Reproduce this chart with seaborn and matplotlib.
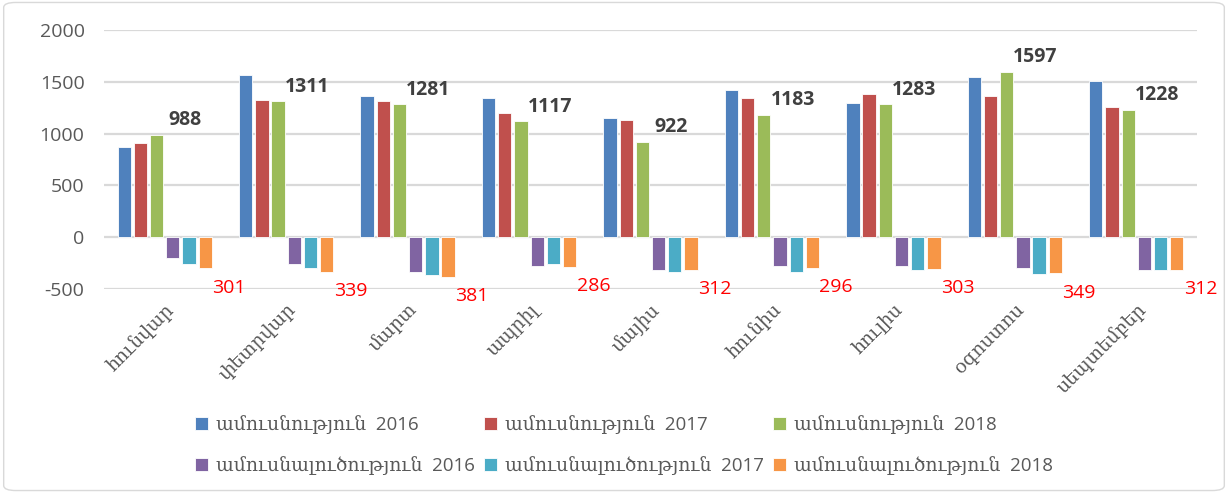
import pandas as pd
import numpy as np
import matplotlib.pyplot as plt
import seaborn as sns
from matplotlib.patches import FancyBboxPatch

# chart data
months = ['հունվար', 'փետրվար', 'մարտ', 'ապրիլ', 'մայիս', 'հունիս', 'հուլիս', 'օգոստոս', 'սեպտեմբեր']
marr_2016 = [874, 1565, 1363, 1344, 1149, 1418, 1293, 1546, 1507]
marr_2017 = [912, 1328, 1312, 1203, 1130, 1344, 1382, 1363, 1258]
marr_2018 = [988, 1311, 1281, 1117, 922, 1183, 1283, 1597, 1228]
div_2016 = [205, 259, 333, 278, 314, 278, 278, 295, 317]
div_2017 = [259, 295, 368, 259, 333, 333, 314, 355, 317]
div_2018 = [301, 339, 381, 286, 312, 296, 303, 349, 312]

series_names = ['ամուսնություն  2016', 'ամուսնություն  2017', 'ամուսնություն  2018',
                'ամուսնալուծություն  2016', 'ամուսնալուծություն  2017', 'ամուսնալուծություն  2018']
colors = ['#4F81BD', '#C0504D', '#9BBB59', '#8064A2', '#4BACC6', '#F79646']

# long table for seaborn (divorces drawn below zero)
values = [marr_2016, marr_2017, marr_2018,
          [-v for v in div_2016], [-v for v in div_2017], [-v for v in div_2018]]
rows = []
for name, vals in zip(series_names, values):
    for m, v in zip(months, vals):
        rows.append({'month': m, 'value': v, 'series': name})
df = pd.DataFrame(rows)

sns.set_style('white')
plt.rcParams['font.family'] = ['Open Sans', 'DejaVu Serif']
plt.rcParams['axes.unicode_minus'] = False
gray = '#595959'

fig = plt.figure(figsize=(12.28, 4.93), dpi=100)
ax = fig.add_axes([104 / 1228, 1 - 289 / 493, 1093 / 1228, 259 / 493])

sns.barplot(data=df, x='month', y='value', hue='series', order=months,
            hue_order=series_names, palette=colors, saturation=1,
            width=0.8, gap=0.18, edgecolor='white', linewidth=0.6, ax=ax)

ax.set_ylim(-500, 2000)
ax.set_xlim(-0.5, len(months) - 0.5)
ax.set_yticks(np.arange(-500, 2001, 500))
ax.yaxis.grid(True, color='#d9d9d9', linewidth=1.6)
ax.set_axisbelow(True)
for s in ax.spines.values():
    s.set_visible(False)
ax.set_xlabel('')
ax.set_ylabel('')
ax.tick_params(axis='y', labelsize=14, labelcolor=gray, length=0, pad=14)
ax.tick_params(axis='x', length=0, pad=8)
ax.set_xticks(range(len(months)))
ax.set_xticklabels(months, rotation=45, ha='right', va='top', rotation_mode='anchor',
                   fontsize=13.5, color=gray, family=['DejaVu Serif'])

# value labels
for i, v in enumerate(marr_2018):
    ax.text(i + 0.17, v + 140, str(v), ha='center', va='center',
            fontsize=14, fontweight='bold', color='#404040')
for i, v in enumerate(div_2018):
    ax.text(i + 0.53, -v - 185, str(v), ha='center', va='center',
            fontsize=14, color='red')

# legend: 2 rows x 3 columns
handles, labels = ax.get_legend_handles_labels()
ax.legend_.remove()
order = [0, 3, 1, 4, 2, 5]
fig.legend([handles[k] for k in order], [labels[k] for k in order],
           ncol=3, loc='center', bbox_to_anchor=(624 / 1228, 1 - 445 / 493),
           frameon=False, fontsize=13.5, labelcolor=gray, handlelength=0.7,
           handleheight=0.7, handletextpad=0.4, columnspacing=0.5,
           labelspacing=1.15)

# chart border
fig.patches.append(FancyBboxPatch((0.003, 0.005), 0.994, 0.99,
                                  boxstyle='round,pad=0,rounding_size=0.01',
                                  transform=fig.transFigure, fill=False,
                                  edgecolor='#d9d9d9', linewidth=1))

fig.savefig('out.png', dpi=100)
